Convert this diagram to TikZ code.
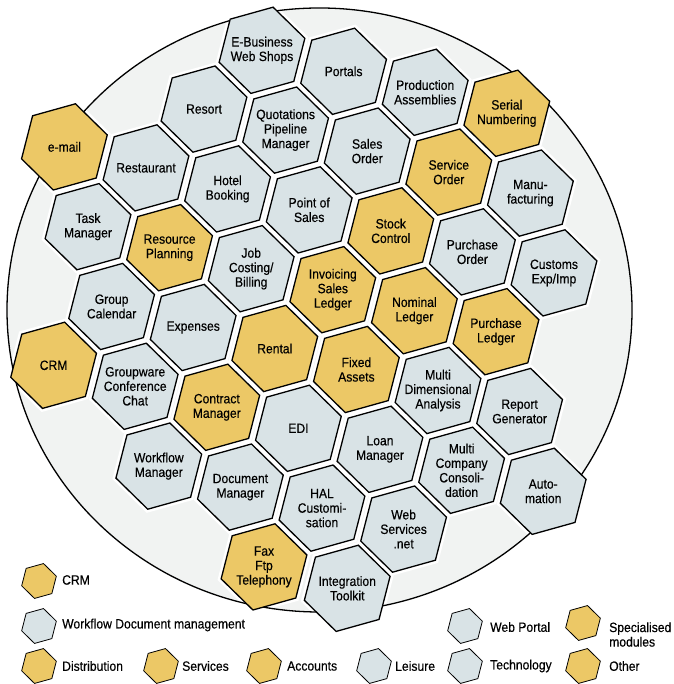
\documentclass[tikz,border=0pt]{standalone}
\usepackage{fontspec}
\setmainfont{Liberation Sans}[FakeStretch=0.9,FakeBold=0.35]
\definecolor{hgold}{RGB}{236,200,102}
\definecolor{hblue}{RGB}{217,227,230}
\definecolor{discfill}{RGB}{241,243,242}
\tikzset{
  hexline/.style={draw=black, line width=1.3pt, line join=miter},
  goldhex/.style={hexline, fill=hgold},
  bluehex/.style={hexline, fill=hblue},
  halo/.style={draw=white, line width=6.5pt, line join=miter},
  hextext/.style={font=\fontsize{13.5}{14.5}\selectfont, align=center, inner sep=0pt, text=black},
  legline/.style={draw=black, line width=0.8pt, line join=miter},
  leggold/.style={legline, fill=hgold},
  legblue/.style={legline, fill=hblue},
  legtext/.style={font=\fontsize{13.5}{14.5}\selectfont, align=left, inner sep=0pt, text=black, anchor=west},
}
% lattice position of cell (i,j)
\newcommand\CX[2]{262+81.6*(#1)-58*(#2)}
\newcommand\CY[2]{633.7-21*(#1)-58.8*(#2)}
\newcommand\HaloCell[5]{%
  \path[halo, shift={({\CX{#2}{#3}},{\CY{#2}{#3}})}]
    (15.6:44.5) -- (75.6:44.5) -- (135.6:44.5) -- (195.6:44.5) -- (255.6:44.5) -- (315.6:44.5) -- cycle;}
\newcommand\DrawCell[5]{%
  \path[#4, shift={({\CX{#2}{#3}},{\CY{#2}{#3}})}]
    (15.6:44.5) -- (75.6:44.5) -- (135.6:44.5) -- (195.6:44.5) -- (255.6:44.5) -- (315.6:44.5) -- cycle;
  \node[hextext] (#1) at ({\CX{#2}{#3}},{\CY{#2}{#3}}) {#5};}
% name, hex x, hex y, style, text x, text y, text
\newcommand\LegCell[7]{%
  \path[#4, shift={(#2,#3)}]
    (15.6:18) -- (75.6:18) -- (135.6:18) -- (195.6:18) -- (255.6:18) -- (315.6:18) -- cycle;
  \node[legtext] (#1) at (#5,#6) {#7};}
\newcommand\CellList{%
  \HX{ebiz}{0}{0}{bluehex}{E-Business\\Web Shops}
  \HX{portals}{1}{0}{bluehex}{Portals}
  \HX{prod}{2}{0}{bluehex}{Production\\Assemblies}
  \HX{serial}{3}{0}{goldhex}{Serial\\Numbering}
  \HX{resort}{0}{1}{bluehex}{Resort}
  \HX{quot}{1}{1}{bluehex}{Quotations\\Pipeline\\Manager}
  \HX{sales}{2}{1}{bluehex}{Sales\\Order}
  \HX{service}{3}{1}{goldhex}{Service\\Order}
  \HX{manu}{4}{1}{bluehex}{Manu-\\facturing}
  \HX{email}{-1}{2}{goldhex}{e-mail}
  \HX{restaurant}{0}{2}{bluehex}{Restaurant}
  \HX{hotel}{1}{2}{bluehex}{Hotel\\Booking}
  \HX{pos}{2}{2}{bluehex}{Point of\\Sales}
  \HX{stock}{3}{2}{goldhex}{Stock\\Control}
  \HX{porder}{4}{2}{bluehex}{Purchase\\Order}
  \HX{customs}{5}{2}{bluehex}{Customs\\Exp/Imp}
  \HX{task}{0}{3}{bluehex}{Task\\Manager}
  \HX{resource}{1}{3}{goldhex}{Resource\\Planning}
  \HX{job}{2}{3}{bluehex}{Job\\Costing/\\Billing}
  \HX{invoicing}{3}{3}{goldhex}{Invoicing\\Sales\\Ledger}
  \HX{nominal}{4}{3}{goldhex}{Nominal\\Ledger}
  \HX{pledger}{5}{3}{goldhex}{Purchase\\Ledger}
  \HX{group}{1}{4}{bluehex}{Group\\Calendar}
  \HX{expenses}{2}{4}{bluehex}{Expenses}
  \HX{rental}{3}{4}{goldhex}{Rental}
  \HX{fixed}{4}{4}{goldhex}{Fixed\\Assets}
  \HX{multidim}{5}{4}{bluehex}{Multi\\Dimensional\\Analysis}
  \HX{report}{6}{4}{bluehex}{Report\\Generator}
  \HX{crm}{1}{5}{goldhex}{CRM}
  \HX{groupware}{2}{5}{bluehex}{Groupware\\Conference\\Chat}
  \HX{contract}{3}{5}{goldhex}{Contract\\Manager}
  \HX{edi}{4}{5}{bluehex}{EDI}
  \HX{loan}{5}{5}{bluehex}{Loan\\Manager}
  \HX{multico}{6}{5}{bluehex}{Multi\\Company\\Consoli-\\dation}
  \HX{automation}{7}{5}{bluehex}{Auto-\\mation}
  \HX{workflow}{3}{6}{bluehex}{Workflow\\Manager}
  \HX{document}{4}{6}{bluehex}{Document\\Manager}
  \HX{hal}{5}{6}{bluehex}{HAL\\Customi-\\sation}
  \HX{websvc}{6}{6}{bluehex}{Web\\Services\\.net}
  \HX{fax}{5}{7}{goldhex}{Fax\\Ftp\\Telephony}
  \HX{integration}{6.02}{7}{bluehex}{Integration\\Toolkit}
}
\begin{document}
\begin{tikzpicture}[x=1pt,y=1pt]
  \useasboundingbox (0,0) rectangle (673,684);
  % disc
  \fill[discfill] (319.5,374) ellipse [x radius=312.5pt, y radius=302pt];
  % white gaps between cells
  \let\HX\HaloCell
  \CellList
  \draw[line width=1.3pt] (319.5,374) ellipse [x radius=312.5pt, y radius=302pt];
  % cells
  \let\HX\DrawCell
  \CellList
  % legend
  \LegCell{lcrm}{39}{103}{leggold}{62}{104}{CRM}
  \LegCell{lworkflow}{39}{58}{legblue}{62}{59}{Workflow Document management}
  \LegCell{ldistribution}{39}{18}{leggold}{62}{18}{Distribution}
  \LegCell{lservices}{161}{18}{leggold}{182}{18}{Services}
  \LegCell{laccounts}{264}{18}{leggold}{287}{18}{Accounts}
  \LegCell{lleisure}{374}{18}{legblue}{395}{18}{Leisure}
  \LegCell{ltechnology}{465}{18}{legblue}{490}{18}{Technology}
  \LegCell{lwebportal}{465}{58}{legblue}{490}{57}{Web Portal}
  \LegCell{lother}{583}{18}{leggold}{609}{18}{Other}
  \LegCell{lspecial}{583}{61}{leggold}{609}{49.5}{Specialised\\modules}
\end{tikzpicture}
\end{document}
